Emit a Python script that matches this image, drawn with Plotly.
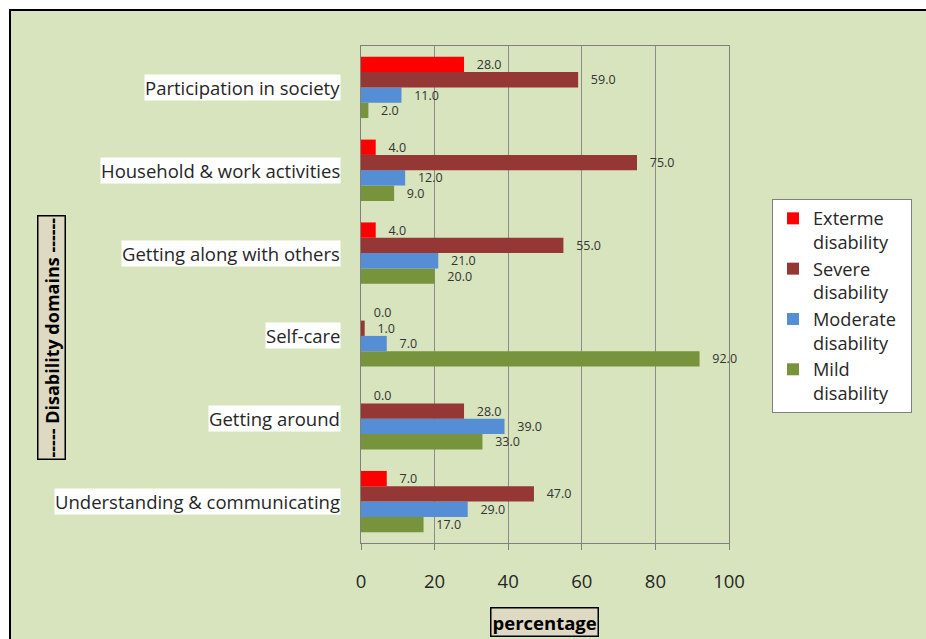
import plotly.graph_objects as go

categories = ["Understanding & communicating", "Getting around", "Self-care",
              "Getting along with others", "Household & work activities",
              "Participation in society"]
extreme = [7, 0, 0, 4, 4, 28]
severe = [47, 28, 1, 55, 75, 59]
moderate = [29, 39, 7, 21, 12, 11]
mild = [17, 33, 92, 20, 9, 2]
series_names = ["Exterme<br>disability", "Severe<br>disability",
                "Moderate\u00a0\u00a0<br>disability", "Mild<br>disability"]
colors = ["#FF0000", "#953735", "#558ED5", "#77933C"]
x_ticks = [0, 20, 40, 60, 80, 100]

FONT = "Open Sans"
W, H = 926, 639
L, R, T, B = 361, 729, 46, 543

def px2x(px):
    return (px - L) / (R - L)

def py2y(py):
    return (B - py) / (B - T)

fig = go.Figure()
series = [extreme, severe, moderate, mild]
# add bottom-first so Extreme is on top of each group
for i in [3, 2, 1, 0]:
    vals = series[i]
    fig.add_trace(go.Bar(
        y=categories, x=vals, orientation="h", name=series_names[i],
        marker=dict(color=colors[i], line=dict(width=0)),
        text=["\u00a0\u00a0\u00a0" + f"{v:.1f}" for v in vals],
        textposition="outside", cliponaxis=False, constraintext="none",
        textfont=dict(family=FONT, size=12.5, color="#333333"),
    ))

fig.update_layout(
    width=W, height=H,
    margin=dict(l=L, r=W - R, t=T, b=H - B),
    paper_bgcolor="white", plot_bgcolor="#FCD5B5",
    barmode="group", bargap=0.26, bargroupgap=0,
    font=dict(family=FONT, size=18.5, color="#262626"),
    showlegend=True,
    legend=dict(
        x=px2x(772), y=py2y(199), xanchor="left", yanchor="top",
        bgcolor="white", bordercolor="#7F7F7F", borderwidth=1,
        traceorder="reversed", valign="top",
        font=dict(family=FONT, size=18.2, color="#262626"),
        itemwidth=30, tracegroupgap=4,
    ),
    xaxis=dict(
        range=[0, 100], tickvals=x_ticks, showgrid=True, gridcolor="#8C8C8C",
        gridwidth=1, zeroline=False, showline=True, linecolor="#7F7F7F",
        mirror=True, ticks="outside", ticklen=6, tickcolor="#7F7F7F",
        tickfont=dict(family=FONT, size=18.5, color="#262626"),
        ticklabelstandoff=16,
    ),
    yaxis=dict(
        showticklabels=False, showgrid=False, zeroline=False, showline=True,
        linecolor="#7F7F7F", mirror=True, ticks="",
    ),
)

# outer chart frame
fig.add_shape(type="rect", xref="paper", yref="paper",
              x0=px2x(10), x1=px2x(960), y0=py2y(680), y1=py2y(10),
              fillcolor="#D7E4BD", line=dict(color="black", width=2),
              layer="below")

# category labels with white background
for c in categories:
    fig.add_annotation(x=px2x(341), xref="paper", y=c, yref="y",
                       text=c, showarrow=False, xanchor="right", yanchor="middle",
                       bgcolor="white", borderpad=0,
                       font=dict(family=FONT, size=18.5, color="#262626"))

fig.add_annotation(x=px2x(544.5), y=py2y(622), xref="paper", yref="paper",
                   xanchor="center", yanchor="middle",
                   text="<b>percentage</b>", showarrow=False,
                   bgcolor="#DDD9C3", bordercolor="black", borderwidth=1.5,
                   borderpad=1, font=dict(family=FONT, size=18.5, color="black"))
fig.add_annotation(x=px2x(51.5), y=py2y(337.5), xref="paper", yref="paper",
                   xanchor="center", yanchor="middle",
                   text="<b>----- Disability domains ------</b>", textangle=-90,
                   showarrow=False,
                   bgcolor="#DDD9C3", bordercolor="black", borderwidth=1.5,
                   borderpad=1, font=dict(family=FONT, size=18, color="black"))

fig.write_html("out.html")
